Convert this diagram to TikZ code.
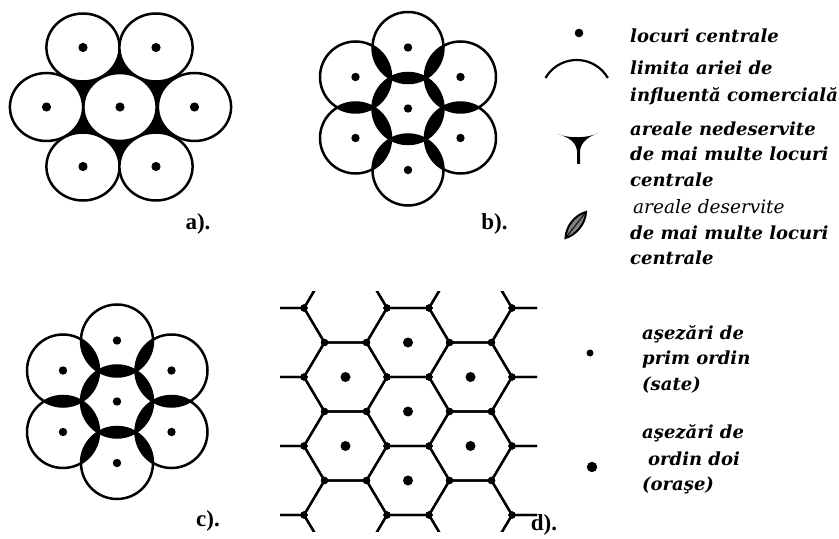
\documentclass[tikz,border=0pt]{standalone}
\usepackage{fontspec}
\newfontfamily\legfont{DejaVu Serif}
\newfontfamily\labfont{Liberation Serif}
\tikzset{
  ring/.style={line width=2.5bp},
  hexline/.style={line width=2.3bp},
  legtext/.style={anchor=base west, inner sep=0pt, font=\legfont\bfseries\itshape\fontsize{18bp}{22bp}\selectfont},
  legthin/.style={legtext, font=\legfont\itshape\fontsize{18.5bp}{22bp}\selectfont},
  lab/.style={inner sep=0pt, font=\labfont\bfseries\fontsize{23bp}{26bp}\selectfont},
}
\newcommand\lensr{35.5bp}
\begin{document}
\begin{tikzpicture}[x=1bp,y=-1bp]
\path[use as bounding box] (0,0) rectangle (839,539);

% ---------- panel a ----------
\foreach \n/\x/\y in {a0/120/107, a1/83/47.5, a2/156/47.5, a3/46.5/107, a4/194.5/107, a5/83/166.5, a6/156/166.5}
  \coordinate (\n) at (\x,\y);
\fill[black] (a1) -- (a2) -- (a4) -- (a6) -- (a5) -- (a3) -- cycle;
\foreach \n in {a0,a1,a2,a3,a4,a5,a6}{
  \filldraw[ring, fill=white] (\n) ellipse[x radius=36.6bp, y radius=34bp];
  \fill (\n) circle[radius=4.6bp];
}
\node[lab] (la) at (198,224) {a).};

% ---------- panel b ----------
\foreach \n/\x/\y in {b0/408/108.5, b1/408/47.5, b2/355.5/77, b3/460.5/77, b4/355.5/138, b5/460.5/138, b6/408/170}
  \coordinate (\n) at (\x,\y);
\foreach \p/\q in {b0/b1,b0/b2,b0/b3,b0/b4,b0/b5,b0/b6,b1/b2,b1/b3,b2/b4,b3/b5,b4/b6,b5/b6}{
  \begin{scope}
    \clip (\p) circle[radius=\lensr];
    \fill (\q) circle[radius=\lensr];
  \end{scope}
}
\foreach \n in {b0,b1,b2,b3,b4,b5,b6}{
  \draw[ring] (\n) circle[radius=\lensr];
  \fill (\n) circle[radius=4.2bp];
}
\node[lab] (lb) at (494.5,224) {b).};

% ---------- panel c ----------
\foreach \n/\x/\y in {c0/117/401.5, c1/117/340.5, c2/63/370.5, c3/171.5/370.5, c4/63/432, c5/171.5/432, c6/117/463}
  \coordinate (\n) at (\x,\y);
\foreach \p/\q in {c0/c1,c0/c2,c0/c3,c0/c4,c0/c5,c0/c6,c1/c2,c1/c3,c2/c4,c3/c5,c4/c6,c5/c6}{
  \begin{scope}
    \clip (\p) circle[radius=36bp];
    \fill (\q) circle[radius=36bp];
  \end{scope}
}
\foreach \n in {c0,c1,c2,c3,c4,c5,c6}{
  \draw[ring] (\n) circle[radius=36bp];
  \fill (\n) circle[radius=4.2bp];
}
\node[lab] (lc) at (208,521) {c).};

% ---------- panel d ----------
\begin{scope}
  \clip (280,292) rectangle (537,531);
  \foreach \cx/\cy in {283/273.5,283/342.5,283/411.5,283/480.5,283/549.5,
                       345.5/239,345.5/308,345.5/377,345.5/446,345.5/515,345.5/584,
                       408/273.5,408/342.5,408/411.5,408/480.5,408/549.5,
                       470.5/239,470.5/308,470.5/377,470.5/446,470.5/515,470.5/584,
                       533/273.5,533/342.5,533/411.5,533/480.5,533/549.5}{
    \draw[hexline] ({\cx-41.5},\cy) -- ({\cx-21},{\cy-34.5}) -- ({\cx+21},{\cy-34.5})
      -- ({\cx+41.5},\cy) -- ({\cx+21},{\cy+34.5}) -- ({\cx-21},{\cy+34.5}) -- cycle;
    \foreach \vx/\vy in {-41.5/0,-21/-34.5,21/-34.5,41.5/0,21/34.5,-21/34.5}
      \fill ({\cx+\vx},{\cy+\vy}) circle[radius=3.6bp];
  }
\end{scope}
\foreach \x/\y in {408/342.5,408/411.5,408/480.5,345.5/377,345.5/446,470.5/377,470.5/446}
  \fill (\x,\y) circle[radius=5bp];
\node[lab] (ld) at (544,525) {d).};

% ---------- legend (top) ----------
\fill (579,33) circle[radius=4.3bp];
\node[legtext] (t1) at (630,42.7) {locuri centrale};
\draw[line width=2.2bp] (545.5,78) arc[start angle=150, end angle=30, radius=36bp];
\node[legtext] (t2a) at (630,75) {limita ariei de};
\node[legtext] (t2b) at (630,101.7) {influentă comercială};
\fill (558,134) .. controls (568,138.5) and (588,138.5) .. (598,133)
  .. controls (588,137) and (581,142) .. (580,151) -- (580,164) -- (577,164) -- (577,151)
  .. controls (576,142) and (569,137.5) .. (558,134) -- cycle;
\node[legtext] (t3a) at (630,136) {areale nedeservite};
\node[legtext] (t3b) at (630,161) {de mai multe locuri};
\node[legtext] (t3c) at (630,186.7) {centrale};
\filldraw[fill=black!50, line width=2bp] (565.5,238) .. controls (566,226) and (575,215) .. (586,212)
  .. controls (585.5,224) and (576,235) .. (565.5,238) -- cycle;
\draw[line width=0.9bp] (565.5,238) -- (586,212);
\node[legthin] (t4a) at (633,213.3) {areale deservite};
\node[legtext] (t4b) at (630,240) {de mai multe locuri};
\node[legtext] (t4c) at (630,265) {centrale};

% ---------- legend (bottom) ----------
\fill (590,353) circle[radius=3.5bp];
\node[legtext] (t5a) at (642,339) {aşezări de};
\node[legtext] (t5b) at (642,364) {prim ordin};
\node[legtext] (t5c) at (642,390) {(sate)};
\fill (592,467) circle[radius=5.2bp];
\node[legtext] (t6a) at (642,438) {aşezări de};
\node[legtext] (t6b) at (648,465) {ordin doi};
\node[legtext] (t6c) at (642,490) {(oraşe)};
\end{tikzpicture}
\end{document}
